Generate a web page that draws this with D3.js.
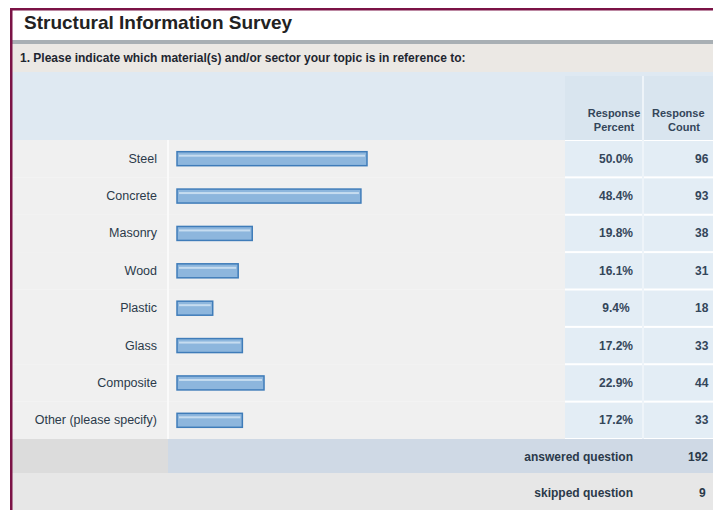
<!DOCTYPE html>
<html>
<head>
<meta charset="utf-8">
<script src="https://cdn.jsdelivr.net/npm/d3@7"></script>
<style>
  body { margin: 0; background: #fff; }
  svg { display: block; font-family: "Liberation Sans", Arial, sans-serif; }
</style>
</head>
<body>
<div id="chart"></div>
<script>
// survey answers
let categories = ["Steel", "Concrete", "Masonry", "Wood", "Plastic", "Glass", "Composite", "Other (please specify)"];
let percents = [50.0, 48.4, 19.8, 16.1, 9.4, 17.2, 22.9, 17.2];
let counts = [96, 93, 38, 31, 18, 33, 44, 33];
let answered = 192;
let skipped = 9;

let title = "Structural Information Survey";
let question = "1. Please indicate which material(s) and/or sector your topic is in reference to:";

let svgWidth = 713;
let svgHeight = 510;

let svg = d3.select('#chart')
    .append('svg')
    .attr('width', svgWidth)
    .attr('height', svgHeight);

// background bands
svg.append('rect').attr('x', 0).attr('y', 0).attr('width', svgWidth).attr('height', svgHeight).attr('fill', '#fff');
svg.append('rect').attr('x', 12).attr('y', 40).attr('width', 701).attr('height', 4).attr('fill', '#a8afb4');
svg.append('rect').attr('x', 12).attr('y', 44).attr('width', 701).attr('height', 28).attr('fill', '#ebe8e4');
svg.append('rect').attr('x', 12).attr('y', 72).attr('width', 701).attr('height', 68).attr('fill', '#dfe9f2');
svg.append('rect').attr('x', 565).attr('y', 76).attr('width', 148).attr('height', 64).attr('fill', '#d9e5ef');

let y = d3.scaleBand()
    .domain(categories)
    .range([140, 439])
    .padding(0);

let x = d3.scaleLinear()
    .domain([0, 100])
    .range([177, 557]);

let rows = svg.append('g').selectAll('g')
    .data(categories)
    .join('g');

rows.append('rect')
    .attr('x', 12)
    .attr('y', d => y(d))
    .attr('width', 553)
    .attr('height', y.bandwidth())
    .attr('fill', '#f0f0f0');

rows.append('rect')
    .attr('x', 565)
    .attr('y', d => y(d) + 1)
    .attr('width', 148)
    .attr('height', y.bandwidth() - 2)
    .attr('fill', '#e3edf5');

// column dividers
svg.append('line').attr('x1', 168).attr('x2', 168).attr('y1', 140).attr('y2', 510)
    .attr('stroke', '#fafafa').attr('stroke-width', 2);
svg.append('line').attr('x1', 643).attr('x2', 643).attr('y1', 76).attr('y2', 439)
    .attr('stroke', '#eef4f9').attr('stroke-width', 2);

// category labels
rows.append('text')
    .attr('x', 157)
    .attr('y', d => y(d) + y.bandwidth() / 2 + 4)
    .attr('text-anchor', 'end')
    .attr('font-size', 12.5)
    .attr('fill', '#2b3a4a')
    .text(d => d);

// bars
rows.append('rect')
    .attr('x', x(0))
    .attr('y', d => y(d) + y.bandwidth() / 2 - 7)
    .attr('width', (d, i) => x(percents[i]) - x(0))
    .attr('height', 14)
    .attr('fill', '#8db6dd')
    .attr('stroke', '#3f7cb9')
    .attr('stroke-width', 1.5);

rows.append('rect')
    .attr('x', x(0) + 2)
    .attr('y', d => y(d) + y.bandwidth() / 2 - 4)
    .attr('width', (d, i) => x(percents[i]) - x(0) - 4)
    .attr('height', 2)
    .attr('fill', '#c6dcf0');

rows.append('text')
    .attr('x', 616)
    .attr('y', d => y(d) + y.bandwidth() / 2 + 4)
    .attr('text-anchor', 'middle')
    .attr('font-size', 12)
    .attr('font-weight', 'bold')
    .attr('fill', '#34465a')
    .text((d, i) => percents[i].toFixed(1) + '%');

rows.append('text')
    .attr('x', 695)
    .attr('y', d => y(d) + y.bandwidth() / 2 + 4)
    .attr('font-size', 12)
    .attr('font-weight', 'bold')
    .attr('fill', '#34465a')
    .text((d, i) => counts[i]);

// footer rows
svg.append('rect').attr('x', 12).attr('y', 439).attr('width', 156).attr('height', 34).attr('fill', '#dcdcdc');
svg.append('rect').attr('x', 168).attr('y', 439).attr('width', 545).attr('height', 34).attr('fill', '#cfd9e5');
svg.append('rect').attr('x', 12).attr('y', 473).attr('width', 701).attr('height', 37).attr('fill', '#e7e7e7');

svg.append('text').attr('x', 633).attr('y', 461).attr('text-anchor', 'end')
    .attr('font-size', 12).attr('font-weight', 'bold').attr('fill', '#2b3a4a').text('answered question');
svg.append('text').attr('x', 688).attr('y', 461)
    .attr('font-size', 12).attr('font-weight', 'bold').attr('fill', '#2b3a4a').text(answered);
svg.append('text').attr('x', 699).attr('y', 497)
    .attr('font-size', 12).attr('font-weight', 'bold').attr('fill', '#2b3a4a').text(skipped);
svg.append('text').attr('x', 633).attr('y', 497).attr('text-anchor', 'end')
    .attr('font-size', 12).attr('font-weight', 'bold').attr('fill', '#2b3a4a').text('skipped question');

// header texts
svg.append('text').attr('x', 24).attr('y', 29)
    .attr('font-size', 19).attr('font-weight', 'bold').attr('fill', '#222').text(title);
svg.append('text').attr('x', 20).attr('y', 62)
    .attr('font-size', 12).attr('font-weight', 'bold').attr('fill', '#1e2630').text(question);

svg.append('text').attr('x', 614).attr('y', 117).attr('text-anchor', 'middle')
    .attr('font-size', 11).attr('font-weight', 'bold').attr('fill', '#34465a').text('Response');
svg.append('text').attr('x', 614).attr('y', 131).attr('text-anchor', 'middle')
    .attr('font-size', 11).attr('font-weight', 'bold').attr('fill', '#34465a').text('Percent');
svg.append('text').attr('x', 652).attr('y', 117)
    .attr('font-size', 11).attr('font-weight', 'bold').attr('fill', '#34465a').text('Response');
svg.append('text').attr('x', 684).attr('y', 131).attr('text-anchor', 'middle')
    .attr('font-size', 11).attr('font-weight', 'bold').attr('fill', '#34465a').text('Count');

// maroon frame
svg.append('rect').attr('x', 10).attr('y', 8).attr('width', 713).attr('height', 2.5).attr('fill', '#7b1346');
svg.append('rect').attr('x', 10).attr('y', 8).attr('width', 2.5).attr('height', 502).attr('fill', '#7b1346');
</script>
</body>
</html>
